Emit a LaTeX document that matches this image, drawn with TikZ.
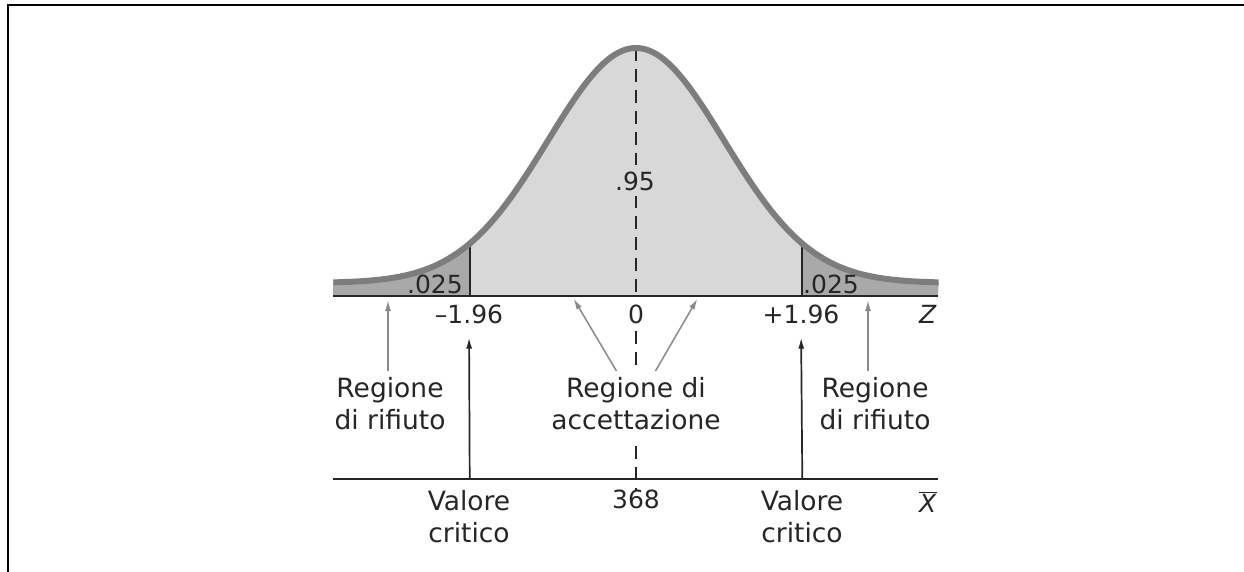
\documentclass[tikz,border=0pt]{standalone}
\usepackage{fontspec}
\setmainfont{DejaVu Sans}
\usetikzlibrary{arrows.meta}
\definecolor{curvegray}{HTML}{7D7D7D}
\definecolor{bodygray}{HTML}{D8D8D8}
\definecolor{tailgray}{HTML}{A9A9A9}
\definecolor{arrowgray}{HTML}{8A8A8A}
\definecolor{inkblack}{HTML}{262626}

\begin{document}
\begin{tikzpicture}
  [x=1pt,y=-1pt,every node/.style={font=\fontsize{25}{31}\selectfont,text=inkblack,inner sep=0pt},
   declare function={bell(\t)=283-235*exp(-(\t)*(\t)/2);},
   wordlabel/.style={align=center,anchor=north,font=\fontsize{26.5}{32}\selectfont},
   axisline/.style={draw=inkblack,line width=2pt},
   bound/.style={draw=inkblack,line width=1.7pt},
   midline/.style={draw=inkblack,line width=2pt,dash pattern=on 13pt off 8pt},
   grayarrow/.style={draw=arrowgray,line width=1.5pt,-{Latex[length=11pt,width=6pt]}},
   critarrow/.style={draw=inkblack,line width=1.7pt,-{Latex[length=11pt,width=6pt]}}]
  \useasboundingbox (0,0) rectangle (1244,571);
  \draw[line width=2.2pt,black] (8,600) -- (8,5) -- (1260,5);

  % Areas under the curve
  \fill[tailgray] (333,296) -- plot[domain=-3.44:-1.89,samples=40] ({636+88*\x},{bell(\x)}) -- (469.7,296) -- cycle;
  \fill[bodygray] (469.7,296) -- plot[domain=-1.89:1.89,samples=80] ({636+88*\x},{bell(\x)}) -- (802.3,296) -- cycle;
  \fill[tailgray] (802.3,296) -- plot[domain=1.89:3.44,samples=40] ({636+88*\x},{bell(\x)}) -- (938,296) -- cycle;

  \coordinate (zl) at (333,296);
  \coordinate (zr) at (938,296);
  \coordinate (xl) at (333,479);
  \coordinate (xr) at (938,479);
  \coordinate (bl) at (469.7,296);
  \coordinate (blt) at (469.7,{bell(-1.89)});
  \coordinate (br) at (802.3,296);
  \coordinate (brt) at (802.3,{bell(1.89)});
  \coordinate (peak) at (636,48);
  \coordinate (mid) at (636,296);
  \coordinate (lcrit) at (469.7,479);
  \coordinate (rcrit) at (802.3,479);
  \coordinate (rejlax) at (388,296);
  \coordinate (rejrax) at (868,296);
  \coordinate (accl) at (572,296);
  \coordinate (accr) at (699,296);

  \draw[bound] (bl) -- (blt);
  \draw[bound] (br) -- (brt);
  \draw[midline] (peak) -- (mid);
  \draw[curvegray,line width=6pt] plot[domain=-3.44:3.44,samples=160] ({636+88*\x},{bell(\x)});
  \draw[axisline] (zl) -- (zr);
  \draw[axisline] (xl) -- (xr);

  % Labels on the curve
  \node[fill=bodygray,inner sep=6pt,anchor=base] (p95) at (635,190) {.95};
  \node[anchor=base east] (ltail) at (463,293) {.025};
  \node[anchor=base west] (rtail) at (803,293) {.025};
  % Z scale
  \node[anchor=base] (mneg) at (469,323) {–1.96};
  \node[anchor=base] (zero) at (636,323) {0};
  \node[anchor=base] (mpos) at (801,323) {+1.96};
  \node[anchor=base] (zlab) at (928,323) {\textit{Z}};
  % Regions
  \node[wordlabel] (rejl) at (390,377) {Regione\\di rifiuto};
  \node[wordlabel] (acc) at (636,377) {Regione di\\accettazione};
  \node[wordlabel] (rejr) at (875,377) {Regione\\di rifiuto};
  % X scale
  \node[wordlabel] (vcl) at (469,490) {Valore\\critico};
  \node[anchor=north] (m368) at (636,490) {368};
  \node[wordlabel] (vcr) at (802,490) {Valore\\critico};
  \node[anchor=base] (xlab) at (928,512) {$\overline{\mbox{\textit{X}}}$};

  \draw[midline,shorten <=7pt,shorten >=6pt] (zero.south) -- (acc.north);
  \draw[midline,shorten <=16pt] (acc.south) -- (m368.north);

  \foreach \from/\to in {lcrit/mneg,rcrit/mpos}
    \draw[critarrow,shorten >=14pt] (\from) -- (\to.south);
  \draw[grayarrow,shorten <=6pt,shorten >=4pt] ([xshift=-2pt]rejl.north) -- (rejlax);
  \draw[grayarrow,shorten <=6pt,shorten >=4pt] ([xshift=-7pt]rejr.north) -- (rejrax);
  \draw[grayarrow,shorten <=7pt,shorten >=3pt] ([xshift=-16pt]acc.north) -- (accl);
  \draw[grayarrow,shorten <=7pt,shorten >=3pt] ([xshift=16pt]acc.north) -- (accr);

\end{tikzpicture}
\end{document}
